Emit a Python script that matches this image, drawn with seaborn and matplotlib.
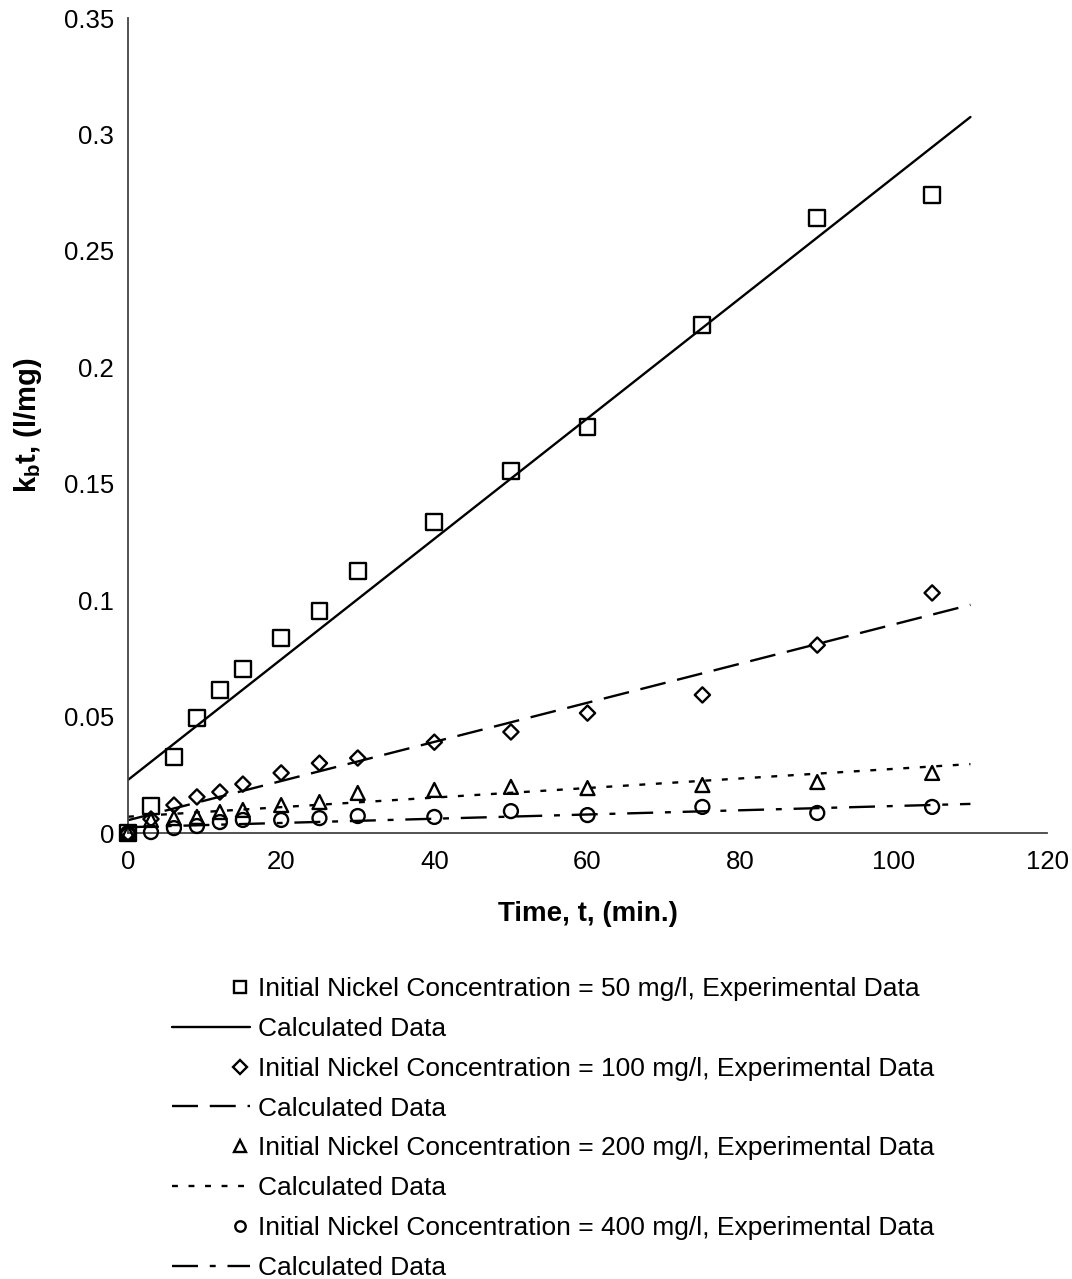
import matplotlib
matplotlib.use("Agg")
import matplotlib.pyplot as plt
from matplotlib.lines import Line2D
from matplotlib.legend_handler import HandlerLine2D
from matplotlib.ticker import FuncFormatter, MultipleLocator
import seaborn as sns
import pandas as pd

# Sampling times (min)
time = [0, 3, 6, 9, 12, 15, 20, 25, 30, 40, 50, 60, 75, 90, 105]

# Experimental k_b*t values (l/mg) for each initial nickel concentration
exp_50 = [0, 0.0116, 0.0326, 0.0494, 0.0614, 0.0704, 0.0837, 0.0953, 0.1125,
          0.1336, 0.1555, 0.1744, 0.2182, 0.2641, 0.274]
exp_100 = [0, 0.006, 0.012, 0.0155, 0.0176, 0.021, 0.0258, 0.030, 0.0322,
           0.039, 0.0434, 0.0515, 0.0593, 0.0807, 0.1031]
exp_200 = [0, 0.0056, 0.0064, 0.0069, 0.009, 0.0099, 0.012, 0.0133, 0.0172,
           0.0185, 0.0198, 0.0193, 0.0206, 0.0219, 0.0258]
exp_400 = [0, 0.0004, 0.0021, 0.003, 0.0047, 0.0056, 0.0056, 0.0064, 0.0073,
           0.0069, 0.0094, 0.0077, 0.0112, 0.0086, 0.0112]

# Calculated (model) lines
calc_time = [0, 110]
calc_50 = [0.0228, 0.3075]
calc_100 = [0.0055, 0.098]
calc_200 = [0.007, 0.0296]
calc_400 = [0.0025, 0.0125]

concentrations = ["50", "100", "200", "400"]

sns.set_theme(style="white")
plt.rcParams["font.family"] = ["Liberation Sans", "DejaVu Sans"]
plt.rcParams["mathtext.fontset"] = "custom"
plt.rcParams["mathtext.rm"] = "Liberation Sans"
plt.rcParams["mathtext.bf"] = "Liberation Sans:bold"
plt.rcParams["text.color"] = "black"
plt.rcParams["axes.labelcolor"] = "black"

fig = plt.figure(figsize=(10.72, 12.79), dpi=100)
ax = fig.add_axes([0.1194, 0.3487, 0.8573, 0.6372])

series_exp = [exp_50, exp_100, exp_200, exp_400]
series_calc = [calc_50, calc_100, calc_200, calc_400]
markers = ["s", "D", "^", "o"]
sizes = [130, 60, 100, 100]
legend_sizes = [8, 7, 8, 7.5]
line_styles = ["-", (0, (11, 5)), (0, (2.5, 4.5)), (0, (11, 5, 2.5, 5))]

for vals, mk, sz in zip(series_exp, markers, sizes):
    df = pd.DataFrame({"t": time, "y": vals})
    sns.scatterplot(data=df, x="t", y="y", ax=ax, marker=mk, s=sz,
                    facecolor="none", edgecolor="black", linewidth=1.7,
                    clip_on=False, zorder=3)

for vals, ls in zip(series_calc, line_styles):
    df = pd.DataFrame({"t": calc_time, "y": vals})
    sns.lineplot(data=df, x="t", y="y", ax=ax, color="black", linewidth=1.7,
                 linestyle=ls, zorder=2)

ax.set_xlim(0, 120)
ax.set_ylim(0, 0.35)
ax.xaxis.set_major_locator(MultipleLocator(20))
ax.yaxis.set_major_locator(MultipleLocator(0.05))
ax.yaxis.set_major_formatter(FuncFormatter(lambda v, p: f"{v:g}"))
ax.xaxis.set_major_formatter(FuncFormatter(lambda v, p: f"{v:g}"))

for side in ["top", "right"]:
    ax.spines[side].set_visible(False)
for side in ["left", "bottom"]:
    ax.spines[side].set_color("#444444")
    ax.spines[side].set_linewidth(1.3)

ax.tick_params(axis="both", direction="out", length=5, width=1.2,
               color="#444444", labelsize=18.5, labelcolor="black")
ax.tick_params(axis="y", pad=5)
ax.tick_params(axis="x", pad=7)

ax.set_xlabel("Time, t, (min.)", fontsize=20, fontweight="bold", labelpad=20,
              color="black")
ax.set_ylabel(r"k$_\mathbf{b}$t, (l/mg)", fontsize=21, fontweight="bold",
              labelpad=14, color="black")


class MarkerRight(HandlerLine2D):
    """Place the single legend marker near the right end of the handle."""
    def get_xdata(self, legend, xdescent, ydescent, width, height, fontsize):
        x0 = -xdescent + 0.74 * width
        x1 = -xdescent + width
        return [x0, x1], [0.5 * (x0 + x1)]


handles, labels = [], []
for conc, mk, ms, ls in zip(concentrations, markers, legend_sizes, line_styles):
    handles.append(Line2D([], [], linestyle="none", marker=mk, markersize=ms,
                          markerfacecolor="none", markeredgecolor="black",
                          markeredgewidth=1.7))
    labels.append(f"Initial Nickel Concentration = {conc} mg/l, Experimental Data")
    handles.append(Line2D([], [], color="black", linestyle=ls, linewidth=1.7))
    labels.append("Calculated Data")

handler_map = {h: MarkerRight() for h in handles[::2]}
leg = fig.legend(handles, labels, handler_map=handler_map, loc="upper left",
                 bbox_to_anchor=(0.1604, 0.236), frameon=False, fontsize=19,
                 handlelength=2.95, handletextpad=0.3, labelspacing=0.6,
                 borderaxespad=0, borderpad=0, labelcolor="black")

fig.savefig("out.png", dpi=100)
